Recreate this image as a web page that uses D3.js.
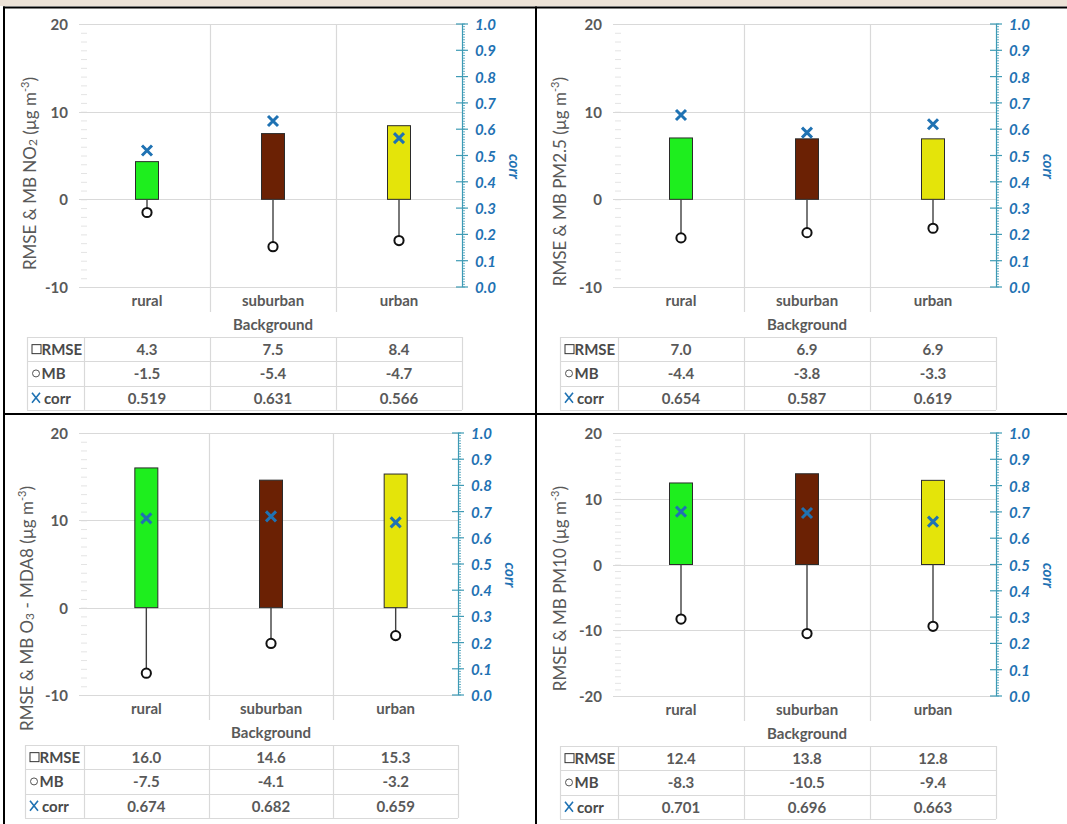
<!DOCTYPE html>
<html>
<head>
<meta charset="utf-8">
<script src="https://cdn.jsdelivr.net/npm/d3@7"></script>
<style>
  html, body { margin: 0; padding: 0; background: #fff; }
  svg { display: block; font-family: Lato, "Open Sans", sans-serif; }
</style>
</head>
<body>
<svg id="chart" width="1067" height="824"></svg>
<script>
// ---- data ----
const categories = ["rural", "suburban", "urban"];
const rowLabels = ["RMSE", "MB", "corr"];
const barColors = ["#1eee1e", "#6b2104", "#e4e40a"];

const no2Rmse = [4.3, 7.5, 8.4];
const no2Mb = [-1.5, -5.4, -4.7];
const no2Corr = [0.519, 0.631, 0.566];

const pm25Rmse = [7.0, 6.9, 6.9];
const pm25Mb = [-4.4, -3.8, -3.3];
const pm25Corr = [0.654, 0.587, 0.619];

const o3Rmse = [16.0, 14.6, 15.3];
const o3Mb = [-7.5, -4.1, -3.2];
const o3Corr = [0.674, 0.682, 0.659];

const pm10Rmse = [12.4, 13.8, 12.8];
const pm10Mb = [-8.3, -10.5, -9.4];
const pm10Corr = [0.701, 0.696, 0.663];

const leftTicksShort = [-10, 0, 10, 20];
const leftTicksWide = [-20, -10, 0, 10, 20];
const corrTicks = [0.0, 0.1, 0.2, 0.3, 0.4, 0.5, 0.6, 0.7, 0.8, 0.9, 1.0];

// y-axis titles as text runs (sub/superscripts marked)
const titleNo2 = [["RMSE & MB NO"], ["2", "sub"], [" (µg m"], ["-3", "sup"], [")"]];
const titlePm25 = [["RMSE & MB PM2.5 (µg m"], ["-3", "sup"], [")"]];
const titleO3 = [["RMSE & MB O"], ["3", "sub"], [" - MDA8 (µg m"], ["-3", "sup"], [")"]];
const titlePm10 = [["RMSE & MB PM10 (µg m"], ["-3", "sup"], [")"]];

// ---- layout of the four panels ----
const panels = [
  { title: titleNo2, rmse: no2Rmse, mb: no2Mb, corr: no2Corr, ticks: leftTicksShort,
    box: { left: 84, right: 462, top: 24, bottom: 287, tableLeft: 27, titleX: 29 } },
  { title: titlePm25, rmse: pm25Rmse, mb: pm25Mb, corr: pm25Corr, ticks: leftTicksShort,
    box: { left: 618, right: 996, top: 24, bottom: 287, tableLeft: 560, titleX: 559 } },
  { title: titleO3, rmse: o3Rmse, mb: o3Mb, corr: o3Corr, ticks: leftTicksShort,
    box: { left: 84, right: 458, top: 433, bottom: 695, tableLeft: 25, titleX: 26 } },
  { title: titlePm10, rmse: pm10Rmse, mb: pm10Mb, corr: pm10Corr, ticks: leftTicksWide,
    box: { left: 618, right: 996, top: 433, bottom: 696, tableLeft: 560, titleX: 559 } }
];

const locale = d3.formatLocale({ decimal: ".", thousands: ",", grouping: [3], currency: ["", ""], minus: "-" });
const fmt1 = locale.format(".1f");
const fmt3 = locale.format(".3f");
const fmtInt = locale.format("d");

const GRID = "#d9d9d9";
const TEXT = "#595959";
const TABLE_TEXT = "#4a4a4a";
const CORR_BLUE = "#1f72b3";
const CORR_AXIS = "#3f9bb5";

const svg = d3.select("#chart");

// page frame
svg.append("rect").attr("x", 0).attr("y", 0).attr("width", 1067).attr("height", 6).attr("fill", "#ece2d7");

function drawPanel(p) {
  const b = p.box;
  const g = svg.append("g");
  const dom = d3.extent(p.ticks);
  const y = d3.scaleLinear().domain(dom).range([b.bottom, b.top]);
  const yc = d3.scaleLinear().domain([0, 1]).range([b.bottom, b.top]);
  const x = d3.scaleBand().domain(categories).range([b.left, b.right]);
  const cx = c => x(c) + x.bandwidth() / 2;
  const barW = 23;

  // minor ticks on the value axis
  g.selectAll(".minor").data(d3.range(dom[0], dom[1] + 1)).join("line")
    .attr("x1", b.left - 3).attr("x2", b.left + 3)
    .attr("y1", d => y(d) + 0.5).attr("y2", d => y(d) + 0.5)
    .attr("stroke", "#e4e4e4").attr("stroke-width", 1);

  // horizontal gridlines
  g.selectAll(".grid").data(p.ticks).join("line")
    .attr("x1", b.left - 5).attr("x2", b.right)
    .attr("y1", d => Math.round(y(d)) + 0.5).attr("y2", d => Math.round(y(d)) + 0.5)
    .attr("stroke", GRID).attr("stroke-width", 1.2);

  // category dividers, running down through the label row
  g.selectAll(".div").data(categories.slice(1)).join("line")
    .attr("x1", d => Math.round(x(d)) + 0.5).attr("x2", d => Math.round(x(d)) + 0.5)
    .attr("y1", b.top).attr("y2", b.bottom + 25)
    .attr("stroke", GRID).attr("stroke-width", 1.2);

  // RMSE bars
  g.selectAll(".bar").data(categories).join("rect")
    .attr("x", d => cx(d) - barW / 2)
    .attr("y", (d, i) => y(p.rmse[i]))
    .attr("width", barW)
    .attr("height", (d, i) => y(0) - y(p.rmse[i]))
    .attr("fill", (d, i) => barColors[i])
    .attr("stroke", "#2b2b2b").attr("stroke-width", 1);

  // MB stems + open circles
  g.selectAll(".stem").data(categories).join("line")
    .attr("x1", d => cx(d)).attr("x2", d => cx(d))
    .attr("y1", y(0)).attr("y2", (d, i) => y(p.mb[i]))
    .attr("stroke", "#404040").attr("stroke-width", 1.4);
  g.selectAll(".mb").data(categories).join("circle")
    .attr("cx", d => cx(d)).attr("cy", (d, i) => y(p.mb[i]))
    .attr("r", 4.6).attr("fill", "#fff").attr("stroke", "#111").attr("stroke-width", 2);

  // corr markers on the secondary axis
  const s = 5;
  g.selectAll(".corr").data(categories).join("path")
    .attr("d", (d, i) => {
      const px = cx(d), py = yc(p.corr[i]);
      return `M${px - s},${py - s}L${px + s},${py + s}M${px - s},${py + s}L${px + s},${py - s}`;
    })
    .attr("stroke", CORR_BLUE).attr("stroke-width", 3).attr("fill", "none");

  // value axis labels
  g.selectAll(".ylab").data(p.ticks).join("text")
    .attr("x", b.left - 16).attr("y", d => y(d))
    .attr("text-anchor", "end").attr("dominant-baseline", "central")
    .attr("font-size", 15).attr("font-weight", "bold").attr("fill", TEXT)
    .text(d => fmtInt(d));

  // secondary (corr) axis
  const ra = g.append("g");
  ra.append("line").attr("x1", b.right + 0.5).attr("x2", b.right + 0.5)
    .attr("y1", yc(0)).attr("y2", yc(1)).attr("stroke", CORR_AXIS).attr("stroke-width", 1.2);
  ra.selectAll(".cminor").data(d3.range(0, 101)).join("line")
    .attr("x1", b.right).attr("x2", b.right + 3)
    .attr("y1", d => yc(d / 100)).attr("y2", d => yc(d / 100))
    .attr("stroke", CORR_AXIS).attr("stroke-width", 0.8);
  ra.selectAll(".cmajor").data(corrTicks).join("line")
    .attr("x1", b.right - 6).attr("x2", b.right + 6)
    .attr("y1", d => yc(d)).attr("y2", d => yc(d))
    .attr("stroke", CORR_AXIS).attr("stroke-width", 1.2);
  ra.selectAll(".clab").data(corrTicks).join("text")
    .attr("x", b.right + 13).attr("y", d => yc(d))
    .attr("dominant-baseline", "central")
    .attr("font-size", 15).attr("font-weight", "bold").attr("font-style", "italic")
    .attr("fill", CORR_BLUE)
    .text(d => fmt1(d));
  ra.append("text")
    .attr("transform", `translate(${b.right + 53},${(b.top + b.bottom) / 2 + 11}) rotate(90)`)
    .attr("text-anchor", "middle").attr("dominant-baseline", "central")
    .attr("font-size", 15).attr("font-weight", "bold").attr("font-style", "italic")
    .attr("fill", CORR_BLUE).text("corr");

  // value axis title
  const t = g.append("text")
    .attr("transform", `translate(${b.titleX},${b.top + 53}) rotate(-90)`)
    .attr("text-anchor", "end").attr("dominant-baseline", "central")
    .attr("font-size", 17).attr("fill", TEXT);
  p.title.forEach(([str, kind]) => {
    const ts = t.append("tspan").text(str);
    if (kind === "sub") ts.attr("font-size", 12).attr("baseline-shift", "-25%");
    if (kind === "sup") ts.attr("font-size", 11).attr("baseline-shift", "45%");
  });

  // category labels and axis title
  g.selectAll(".xlab").data(categories).join("text")
    .attr("x", d => cx(d)).attr("y", b.bottom + 13)
    .attr("text-anchor", "middle").attr("dominant-baseline", "central")
    .attr("font-size", 15).attr("font-weight", "bold").attr("fill", TEXT)
    .text(d => d);
  g.append("text")
    .attr("x", (b.left + b.right) / 2).attr("y", b.bottom + 37)
    .attr("text-anchor", "middle").attr("dominant-baseline", "central")
    .attr("font-size", 15).attr("font-weight", "bold").attr("fill", TEXT)
    .text("Background");

  // data table
  const tTop = b.bottom + 50, rowH = 24.3;
  const tb = g.append("g");
  d3.range(4).forEach(i => {
    tb.append("line").attr("x1", b.tableLeft).attr("x2", b.right)
      .attr("y1", Math.round(tTop + i * rowH) + 0.5).attr("y2", Math.round(tTop + i * rowH) + 0.5)
      .attr("stroke", GRID).attr("stroke-width", 1.2);
  });
  const vx = [b.tableLeft, b.left, ...categories.slice(1).map(c => x(c)), b.right];
  vx.forEach(v => {
    tb.append("line").attr("x1", Math.round(v) + 0.5).attr("x2", Math.round(v) + 0.5)
      .attr("y1", tTop).attr("y2", tTop + 3 * rowH)
      .attr("stroke", GRID).attr("stroke-width", 1.2);
  });
  const rows = [p.rmse.map(fmt1), p.mb.map(fmt1), p.corr.map(fmt3)];
  rows.forEach((vals, r) => {
    const ry = tTop + (r + 0.5) * rowH;
    tb.selectAll(null).data(categories).join("text")
      .attr("x", d => cx(d)).attr("y", ry)
      .attr("text-anchor", "middle").attr("dominant-baseline", "central")
      .attr("font-size", 15).attr("font-weight", "bold").attr("fill", TEXT)
      .text((d, i) => vals[i]);
    // legend key
    const lx = b.tableLeft;
    if (r === 0) {
      tb.append("rect").attr("x", lx + 5).attr("y", ry - 4.5).attr("width", 9).attr("height", 9)
        .attr("fill", "none").attr("stroke", "#333").attr("stroke-width", 1);
    } else if (r === 1) {
      tb.append("circle").attr("cx", lx + 9).attr("cy", ry).attr("r", 3.5)
        .attr("fill", "none").attr("stroke", "#555").attr("stroke-width", 1);
    } else {
      tb.append("path")
        .attr("d", `M${lx + 5},${ry - 5}L${lx + 13},${ry + 5}M${lx + 5},${ry + 5}L${lx + 13},${ry - 5}`)
        .attr("stroke", CORR_BLUE).attr("stroke-width", 1.6).attr("fill", "none");
    }
    tb.append("text")
      .attr("x", lx + (r === 2 ? 17 : 14.5)).attr("y", ry)
      .attr("dominant-baseline", "central")
      .attr("font-size", 15).attr("font-weight", "bold").attr("fill", TABLE_TEXT)
      .text(rowLabels[r]);
  });
}

panels.forEach(drawPanel);

// panel frames
const frame = svg.append("g").attr("stroke", "#000").attr("stroke-width", 2);
frame.append("line").attr("x1", 3).attr("x2", 1067).attr("y1", 7.5).attr("y2", 7.5);
frame.append("line").attr("x1", 3).attr("x2", 1067).attr("y1", 414).attr("y2", 414);
frame.append("line").attr("x1", 4).attr("x2", 4).attr("y1", 6.5).attr("y2", 824);
frame.append("line").attr("x1", 536).attr("x2", 536).attr("y1", 6.5).attr("y2", 824);
</script>
</body>
</html>
